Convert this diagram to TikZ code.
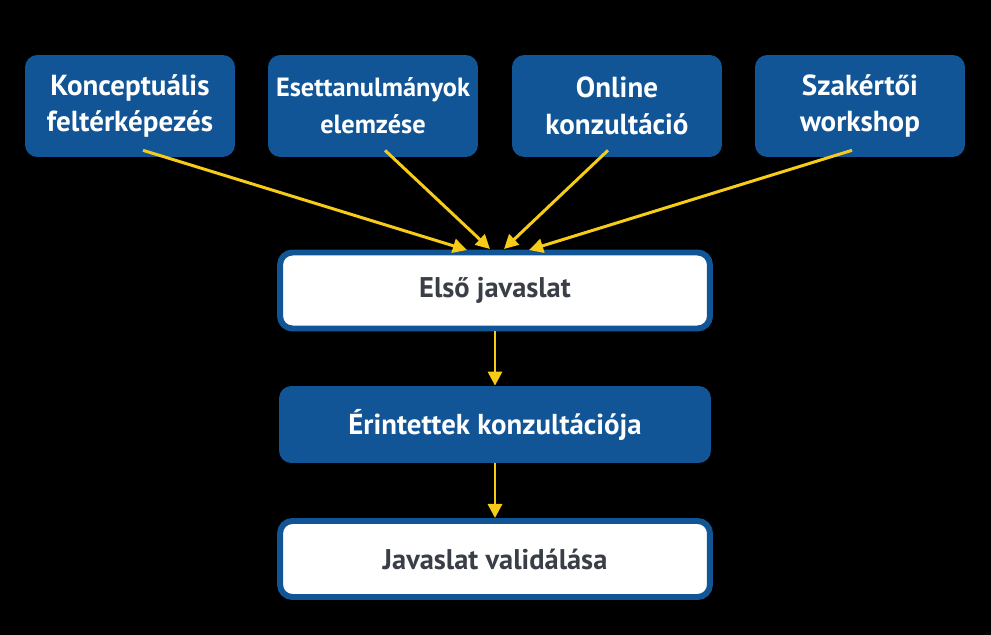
\documentclass[tikz,border=0pt]{standalone}
\usepackage{fontspec}
\setmainfont{PT Sans}
\usepackage{tikz}
\usetikzlibrary{positioning,arrows.meta}

\definecolor{boxblue}{RGB}{17,85,150}
\definecolor{arrowyellow}{RGB}{247,204,24}
\definecolor{textgray}{RGB}{58,62,70}

\begin{document}
\begin{tikzpicture}[x=0.02cm,y=-0.02cm,
	source/.style={rectangle,rounded corners=7pt,fill=boxblue,text=white,font=\bfseries\fontsize{16.5}{21}\selectfont,align=center,minimum width=4.2cm,minimum height=2.04cm,inner sep=0pt},
	stage/.style={rectangle,rounded corners=7pt,fill=boxblue,text=white,font=\bfseries\fontsize{16.4}{20}\selectfont,minimum width=8.64cm,minimum height=1.54cm,inner sep=0pt},
	result/.style={rectangle,rounded corners=7pt,draw=boxblue,line width=3.4pt,fill=white,text=textgray,font=\bfseries\fontsize{16.2}{20}\selectfont,minimum width=8.6cm,minimum height=1.52cm,inner sep=0pt},
	link/.style={draw=arrowyellow,line width=1.7pt,-{Triangle[length=8pt,width=8pt]}}]
	\fill[black] (0,0) rectangle (991,635);

	%top nodes
	\node [source] (s1) at (130,106) {Konceptuális\\feltérképezés};
	\node [source,font=\bfseries\fontsize{15}{21}\selectfont] (s2) at (373,106) {Esettanulmányok\\elemzése};
	\node [source] (s3) at (617,106) {Online\\konzultáció};
	\node [source] (s4) at (860,106) {Szakértői\\workshop};

	%middle column
	\node [result] (e) at (495,290.5) {Első javaslat};
	\node [stage] (r) at (495,424.5) {Érintettek konzultációja};
	\node [result] (v) at (495,559) {Javaslat validálása};

	%arrow ends on top of e
	\coordinate (in1) at (467,250);
	\coordinate (in2) at (490,249);
	\coordinate (in3) at (504,249);
	\coordinate (in4) at (529,250);

	%edges
	\draw [link] ([xshift=13*0.02cm,yshift=4pt]s1.south) -- (in1);
	\draw [link] ([xshift=12*0.02cm,yshift=4pt]s2.south) -- (in2);
	\draw [link] ([xshift=-9*0.02cm,yshift=4pt]s3.south) -- (in3);
	\draw [link] ([xshift=-8*0.02cm,yshift=4pt]s4.south) -- (in4);
	\draw [link] (e) -- (r);
	\draw [link] (r) -- (v);
\end{tikzpicture}
\end{document}
